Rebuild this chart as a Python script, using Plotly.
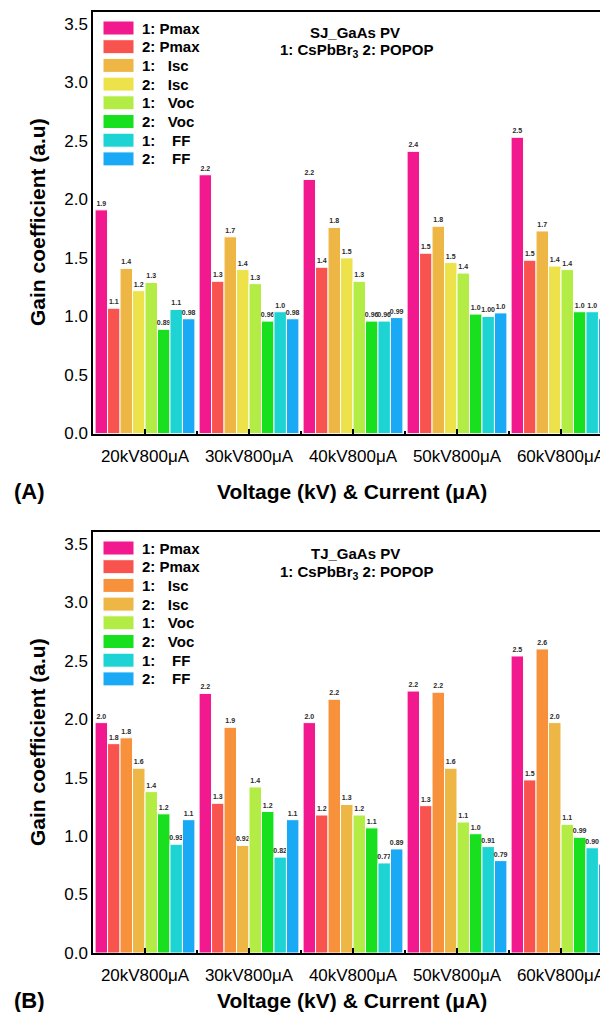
import plotly.graph_objects as go

# ---------------- data ----------------
categories = ["20kV800μA", "30kV800μA", "40kV800μA", "50kV800μA", "60kV800μA"]
series_names = ["1: Pmax", "2: Pmax", "1:   Isc", "2:   Isc", "1:   Voc", "2:   Voc", "1:    FF", "2:    FF"]

# Panel A: SJ_GaAs PV
a_pmax1 = [1.91, 2.21, 2.17, 2.41, 2.53]
a_pmax2 = [1.07, 1.30, 1.42, 1.54, 1.48]
a_isc1 = [1.41, 1.68, 1.76, 1.77, 1.73]
a_isc2 = [1.22, 1.40, 1.50, 1.46, 1.43]
a_voc1 = [1.29, 1.28, 1.30, 1.37, 1.40]
a_voc2 = [0.89, 0.96, 0.96, 1.02, 1.04]
a_ff1 = [1.06, 1.04, 0.96, 1.00, 1.04]
a_ff2 = [0.98, 0.98, 0.99, 1.03, 0.98]

a_pmax1_txt = ["1.9", "2.2", "2.2", "2.4", "2.5"]
a_pmax2_txt = ["1.1", "1.3", "1.4", "1.5", "1.5"]
a_isc1_txt = ["1.4", "1.7", "1.8", "1.8", "1.7"]
a_isc2_txt = ["1.2", "1.4", "1.5", "1.5", "1.4"]
a_voc1_txt = ["1.3", "1.3", "1.3", "1.4", "1.4"]
a_voc2_txt = ["0.89", "0.96", "0.96", "1.0", "1.0"]
a_ff1_txt = ["1.1", "1.0", "0.96", "1.00", "1.0"]
a_ff2_txt = ["0.98", "0.98", "0.99", "1.0", "0.98"]

# Panel B: TJ_GaAs PV
b_pmax1 = [1.97, 2.22, 1.97, 2.24, 2.54]
b_pmax2 = [1.79, 1.28, 1.18, 1.26, 1.48]
b_isc1 = [1.84, 1.93, 2.17, 2.23, 2.60]
b_isc2 = [1.58, 0.92, 1.27, 1.58, 1.97]
b_voc1 = [1.38, 1.42, 1.18, 1.12, 1.10]
b_voc2 = [1.19, 1.21, 1.07, 1.02, 0.99]
b_ff1 = [0.93, 0.82, 0.77, 0.91, 0.90]
b_ff2 = [1.14, 1.14, 0.89, 0.79, 0.76]

b_pmax1_txt = ["2.0", "2.2", "2.0", "2.2", "2.5"]
b_pmax2_txt = ["1.8", "1.3", "1.2", "1.3", "1.5"]
b_isc1_txt = ["1.8", "1.9", "2.2", "2.2", "2.6"]
b_isc2_txt = ["1.6", "0.92", "1.3", "1.6", "2.0"]
b_voc1_txt = ["1.4", "1.4", "1.2", "1.1", "1.1"]
b_voc2_txt = ["1.2", "1.2", "1.1", "1.0", "0.99"]
b_ff1_txt = ["0.93", "0.82", "0.77", "0.91", "0.90"]
b_ff2_txt = ["1.1", "1.1", "0.89", "0.79", "0.76"]

# ---------------- styles ----------------
PINK = "#F2188E"
RED = "#F9534F"
GOLD = "#EDB645"
YELLOW = "#EEE24B"
ORANGE = "#F7913B"
LIME = "#B3EC45"
GREEN = "#19E01F"
CYAN = "#1DD3D3"
BLUE = "#1AAAF5"

colors_a = [PINK, RED, GOLD, YELLOW, LIME, GREEN, CYAN, BLUE]
colors_b = [PINK, RED, ORANGE, GOLD, LIME, GREEN, CYAN, BLUE]

FONT = "Arial, Liberation Sans, sans-serif"

a_vals = [a_pmax1, a_pmax2, a_isc1, a_isc2, a_voc1, a_voc2, a_ff1, a_ff2]
a_txts = [a_pmax1_txt, a_pmax2_txt, a_isc1_txt, a_isc2_txt, a_voc1_txt, a_voc2_txt, a_ff1_txt, a_ff2_txt]
b_vals = [b_pmax1, b_pmax2, b_isc1, b_isc2, b_voc1, b_voc2, b_ff1, b_ff2]
b_txts = [b_pmax1_txt, b_pmax2_txt, b_isc1_txt, b_isc2_txt, b_voc1_txt, b_voc2_txt, b_ff1_txt, b_ff2_txt]

xpos = list(range(len(categories)))

fig = go.Figure()


def add_panel(vals, txts, cols, xa, ya):
    for v, t, c, n in zip(vals, txts, cols, series_names):
        fig.add_trace(go.Bar(
            x=xpos, y=v, text=t, name=n,
            marker=dict(color=c, line=dict(color="white", width=1)),
            texttemplate="<b>%{text}</b>",
            textposition="outside",
            textfont=dict(size=7, color="#2a2a2a", family=FONT),
            constraintext="none",
            cliponaxis=False,
            xaxis=xa, yaxis=ya, showlegend=False,
        ))


add_panel(a_vals, a_txts, colors_a, "x", "y")
add_panel(b_vals, b_txts, colors_b, "x2", "y2")

W, H = 600, 1012
L, R, T, B = 93, 0, 12, 59
PW = W - L - R
PH = H - T - B


def px(x):
    return (x - L) / PW


def py(y):
    return (H - B - y) / PH


domA = [py(433.5), 1.0]
domB = [0.0, py(532)]

xaxis_common = dict(
    range=[-0.5, -0.5 + PW / 104.0],
    tickvals=xpos, ticktext=categories,
    ticks="inside", ticklen=5, tickwidth=2, tickcolor="black",
    minor=dict(ticks="inside", ticklen=3, tickwidth=1.5, tickcolor="black", tick0=0.5, dtick=1),
    showline=True, linecolor="black", linewidth=1.5, mirror=True,
    showgrid=False, zeroline=False,
    tickfont=dict(size=17, color="black", family=FONT),
    ticklabelstandoff=6,
    ticklabeloverflow="allow",
    automargin=False,
)
yaxis_common = dict(
    range=[0, 3.6], dtick=0.5, tick0=0, tickformat=".1f",
    ticks="", showline=True, linecolor="black", linewidth=1.5,
    showgrid=False, zeroline=False,
    tickfont=dict(size=17, color="black", family=FONT),
    automargin=False,
)

fig.update_layout(
    width=W, height=H,
    margin=dict(l=L, r=R, t=T, b=B, autoexpand=False),
    paper_bgcolor="white", plot_bgcolor="white",
    barmode="group", bargap=0.04, bargroupgap=0,
    font=dict(family=FONT, color="black"),
    showlegend=False,
    xaxis=dict(anchor="y", **xaxis_common),
    yaxis=dict(anchor="x", domain=domA, **yaxis_common),
    xaxis2=dict(anchor="y2", **xaxis_common),
    yaxis2=dict(anchor="x2", domain=domB, **yaxis_common),
)

shapes = []
annotations = []

# manual legends
for top, cols in [(28, colors_a), (548, colors_b)]:
    for i, (c, n) in enumerate(zip(cols, series_names)):
        yc = top + i * 18.7
        shapes.append(dict(type="rect", xref="paper", yref="paper",
                           x0=px(103), x1=px(134), y0=py(yc + 7), y1=py(yc - 7),
                           fillcolor=c, line=dict(color="white", width=1)))
        annotations.append(dict(xref="paper", yref="paper", x=px(140), y=py(yc),
                                xanchor="left", yanchor="middle", showarrow=False,
                                text="<b>" + n.replace(" ", "\u00a0") + "</b>",
                                font=dict(size=15, color="black", family=FONT)))

# panel titles
for l1, y1, y2 in [("SJ_GaAs PV", 33, 51), ("TJ_GaAs PV", 553, 572)]:
    annotations.append(dict(xref="paper", yref="paper", x=px(355), y=py(y1),
                            xanchor="center", yanchor="middle", showarrow=False,
                            text="<b>" + l1 + "</b>", font=dict(size=15, family=FONT, color="black")))
    annotations.append(dict(xref="paper", yref="paper", x=px(356), y=py(y2),
                            xanchor="center", yanchor="middle", showarrow=False,
                            text="<b>1: CsPbBr<sub>3</sub> 2: POPOP</b>",
                            font=dict(size=15, family=FONT, color="black")))

# axis titles and panel labels
for ytit, yxt, lab in [(222, 491, "(A)"), (742, 1000, "(B)")]:
    annotations.append(dict(xref="paper", yref="paper", x=px(37), y=py(ytit),
                            xanchor="center", yanchor="middle", showarrow=False, textangle=-90,
                            text="<b>Gain coefficient (a.u)</b>",
                            font=dict(size=21, family=FONT, color="black")))
    annotations.append(dict(xref="paper", yref="paper", x=px(352), y=py(yxt),
                            xanchor="center", yanchor="middle", showarrow=False,
                            text="<b>Voltage (kV) & Current (μA)</b>",
                            font=dict(size=21, family=FONT, color="black")))
    annotations.append(dict(xref="paper", yref="paper", x=px(29), y=py(yxt),
                            xanchor="center", yanchor="middle", showarrow=False,
                            text="<b>" + lab + "</b>",
                            font=dict(size=22, family=FONT, color="black")))

fig.update_layout(shapes=shapes, annotations=annotations)

fig.write_html(
    "out.html",
    config={"displayModeBar": False},
    post_script="document.body.style.margin='0';document.body.style.overflow='hidden';",
)
